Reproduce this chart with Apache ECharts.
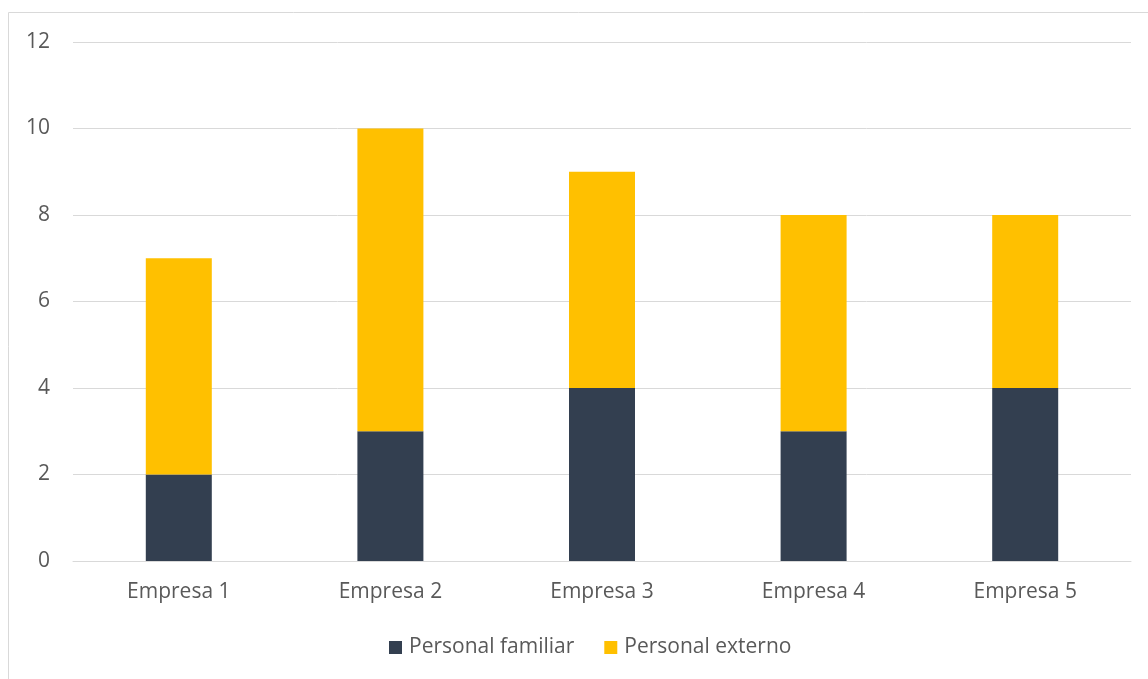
<!DOCTYPE html>
<html>
<head>
<meta charset="utf-8">
<script src="https://cdn.jsdelivr.net/npm/echarts@6/dist/echarts.min.js"></script>
<style>
  html, body { margin: 0; padding: 0; background: #fff; }
  #chart { width: 1148px; height: 679px; }
</style>
</head>
<body>
<div id="chart"></div>
<script>
const categories = ['Empresa 1', 'Empresa 2', 'Empresa 3', 'Empresa 4', 'Empresa 5'];
const familiar = [2, 3, 4, 3, 4];
const externo = [5, 7, 5, 5, 4];
const yTicks = { min: 0, max: 12, interval: 2 };

const chart = echarts.init(document.getElementById('chart'));
const font = '"Open Sans", "Noto Sans", sans-serif';

chart.setOption({
  animation: false,
  textStyle: { fontFamily: font },
  graphic: [{
    type: 'rect',
    shape: { x: 8.5, y: 12.5, width: 1160, height: 700 },
    style: { fill: 'none', stroke: '#d9d9d9', lineWidth: 1 },
    silent: true
  }],
  legend: {
    data: ['Personal familiar', 'Personal externo'],
    top: 632,
    left: 384,
    itemWidth: 13,
    itemHeight: 13,
    itemGap: 30,
    icon: 'rect',
    textStyle: { color: '#595959', fontSize: 21, fontFamily: font, padding: [0, 0, 0, 2] }
  },
  grid: { left: 73, right: 17, top: 42, bottom: 118 },
  xAxis: {
    type: 'category',
    data: categories,
    axisLine: { lineStyle: { color: '#d9d9d9' } },
    axisTick: { show: false },
    axisLabel: { color: '#595959', fontSize: 21, margin: 21, fontFamily: font }
  },
  yAxis: {
    type: 'value',
    min: yTicks.min,
    max: yTicks.max,
    interval: yTicks.interval,
    axisLine: { show: false },
    axisTick: { show: false },
    splitLine: { lineStyle: { color: '#d9d9d9', width: 1 } },
    axisLabel: { color: '#595959', fontSize: 21, margin: 23, fontFamily: font }
  },
  series: [
    {
      name: 'Personal familiar',
      type: 'bar',
      stack: 'total',
      barWidth: 66,
      itemStyle: { color: '#333f50' },
      data: familiar
    },
    {
      name: 'Personal externo',
      type: 'bar',
      stack: 'total',
      barWidth: 66,
      itemStyle: { color: '#ffc000' },
      data: externo
    }
  ]
});
</script>
</body>
</html>
